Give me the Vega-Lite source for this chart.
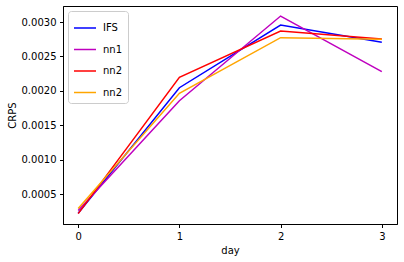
{
  "$schema": "https://vega.github.io/schema/vega-lite/v6.json",
  "width": 334,
  "height": 218,
  "autosize": {"type": "none"},
  "padding": {"left": 63, "top": 6, "right": 7, "bottom": 38},
  "background": "white",
  "data": {
    "values": [
      {"day": 0, "model": "IFS", "crps": 0.00022},
      {"day": 1, "model": "IFS", "crps": 0.002045},
      {"day": 2, "model": "IFS", "crps": 0.002956},
      {"day": 3, "model": "IFS", "crps": 0.002705},
      {"day": 0, "model": "nn1", "crps": 0.00026},
      {"day": 1, "model": "nn1", "crps": 0.001856},
      {"day": 2, "model": "nn1", "crps": 0.003087},
      {"day": 3, "model": "nn1", "crps": 0.002278},
      {"day": 0, "model": "nn2", "crps": 0.000215},
      {"day": 1, "model": "nn2", "crps": 0.002196},
      {"day": 2, "model": "nn2", "crps": 0.002869},
      {"day": 3, "model": "nn2", "crps": 0.002755},
      {"day": 0, "model": "nn2b", "crps": 0.00029},
      {"day": 1, "model": "nn2b", "crps": 0.001964},
      {"day": 2, "model": "nn2b", "crps": 0.002772},
      {"day": 3, "model": "nn2b", "crps": 0.002748}
    ]
  },
  "mark": {"type": "line", "strokeWidth": 1.5},
  "encoding": {
    "x": {
      "field": "day",
      "type": "quantitative",
      "scale": {"domain": [-0.15, 3.15], "nice": false, "zero": false},
      "axis": {"values": [0, 1, 2, 3], "format": "d", "title": "day", "grid": false}
    },
    "y": {
      "field": "crps",
      "type": "quantitative",
      "scale": {"domain": [0.000064, 0.003233], "nice": false, "zero": false},
      "axis": {"values": [0.0005, 0.001, 0.0015, 0.002, 0.0025, 0.003], "format": ".4f", "title": "CRPS", "grid": false, "titlePadding": 4}
    },
    "color": {
      "field": "model",
      "type": "nominal",
      "scale": {"domain": ["IFS", "nn1", "nn2", "nn2b"], "range": ["#0000ff", "#bf00bf", "#ff0000", "#ffa500"]},
      "legend": {
        "title": null,
        "orient": "none",
        "legendX": 5,
        "legendY": 5,
        "labelExpr": "slice(datum.label, 0, 3)",
        "symbolType": "stroke",
        "symbolSize": 484,
        "symbolStrokeWidth": 1.5,
        "labelFontSize": 10,
        "labelFont": "DejaVu Sans",
        "labelColor": "#000",
        "rowPadding": 4.5,
        "labelOffset": 6,
        "fillColor": "white",
        "strokeColor": "#cccccc",
        "cornerRadius": 3,
        "padding": 5
      }
    }
  },
  "config": {
    "view": {"stroke": "#000", "strokeWidth": 1},
    "axis": {
      "labelFont": "DejaVu Sans",
      "labelFontSize": 10,
      "labelColor": "#000",
      "titleFont": "DejaVu Sans",
      "titleFontSize": 10,
      "titleFontWeight": "normal",
      "titleColor": "#000",
      "tickColor": "#000",
      "domainColor": "#000",
      "tickSize": 3.5,
      "labelPadding": 3.5,
      "labelBound": false
    }
  }
}
